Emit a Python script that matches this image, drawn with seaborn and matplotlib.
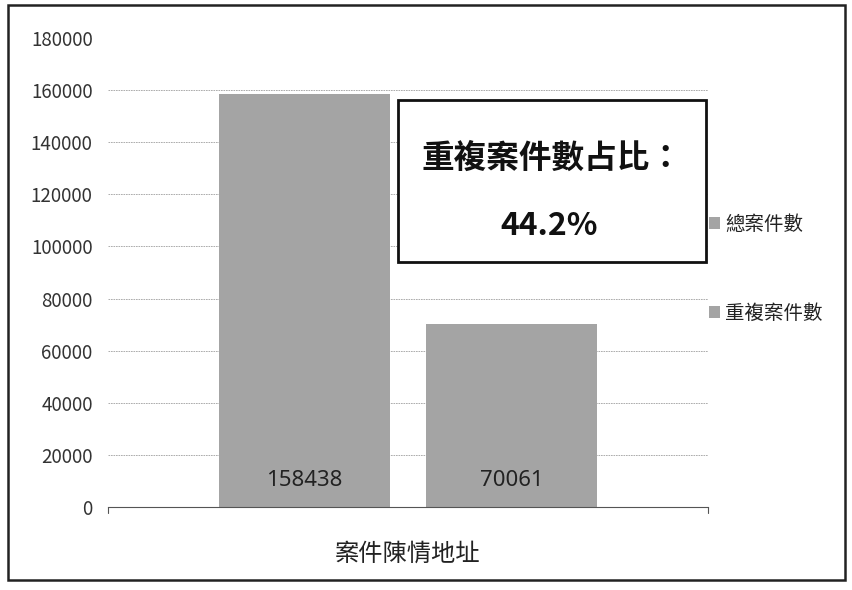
import matplotlib
matplotlib.use("Agg")
import matplotlib.pyplot as plt
import seaborn as sns
import pandas as pd
from matplotlib.patches import Rectangle

categories = ["案件陳情地址"]
series_names = ["總案件數", "重複案件數"]
series_values = [158438, 70061]
y_ticks = [0, 20000, 40000, 60000, 80000, 100000, 120000, 140000, 160000, 180000]
box_title = "重複案件數占比："
box_value = "44.2%"

sns.set_theme(style="white")
plt.rcParams["font.family"] = ["Noto Sans CJK TC", "DejaVu Sans"]

df = pd.DataFrame({
    "category": categories * len(series_names),
    "series": series_names,
    "value": series_values,
})

fig = plt.figure(figsize=(8.53, 5.90), dpi=100)
ax = fig.add_axes([108/853, 1-507/590, 600/853, 469/590])

bar_color = "#a4a4a4"
sns.barplot(data=df, x="category", y="value", hue="series", hue_order=series_names,
            palette=[bar_color, bar_color], width=0.69, gap=0.17, ax=ax,
            edgecolor="none", saturation=1)

ax.set_ylim(0, 180000)
ax.set_xlim(-0.5, 0.5)
ax.set_yticks(y_ticks)
ax.set_yticklabels([str(t) for t in y_ticks], fontsize=13.5, color="#333333")
ax.tick_params(axis="y", length=0, pad=11)
ax.tick_params(axis="x", length=0, pad=24, labelsize=17.5, labelcolor="#222222")
ax.set_xlabel("")
ax.set_ylabel("")
for s in ["left", "right", "top"]:
    ax.spines[s].set_visible(False)
ax.spines["bottom"].set_color("#555555")
ax.spines["bottom"].set_linewidth(0.8)
ax.set_axisbelow(True)
ax.yaxis.grid(True, color="#a0a0a0", linewidth=0.6, linestyle=(0, (2, 1)))
ax.get_ygridlines()[-1].set_visible(False)
ax.get_ygridlines()[0].set_visible(False)

# end tick marks on the category axis
for xe in (0, 1):
    ax.plot([xe, xe], [0, -0.012], transform=ax.transAxes, color="#555555",
            lw=0.8, clip_on=False)

# value labels inside bars near the base
for patch, v in zip(ax.patches, series_values):
    cx = patch.get_x() + patch.get_width() / 2
    ax.text(cx, 10300, str(v), ha="center", va="center", fontsize=16,
            color="#222222", family=["Noto Sans", "DejaVu Sans"])

# annotation box
ax.add_patch(Rectangle((0.483, 0.522), 0.514, 0.346, transform=ax.transAxes,
                       facecolor="white", edgecolor="#111111", lw=2, zorder=5))
ax.text(0.74, 0.744, box_title, transform=ax.transAxes, ha="center", va="center",
        fontsize=23.5, fontweight="bold", color="#111111", zorder=6)
ax.text(0.735, 0.600, box_value, transform=ax.transAxes, ha="center", va="center",
        fontsize=23, fontweight="bold", color="#111111", zorder=6)

# legend
leg = ax.legend(loc="upper left", bbox_to_anchor=(0.995, 0.634), frameon=False,
                fontsize=14, labelspacing=3.5, handlelength=0.55, handleheight=0.55,
                handletextpad=0.3, borderpad=0.2, borderaxespad=0)
for t in leg.get_texts():
    t.set_color("#222222")

# outer frame
fig.patches.append(Rectangle((8/853, 1-580/590), 837/853, 575/590,
                             transform=fig.transFigure, fill=False,
                             edgecolor="#222222", lw=1.8))

fig.savefig("out.png", dpi=100)
